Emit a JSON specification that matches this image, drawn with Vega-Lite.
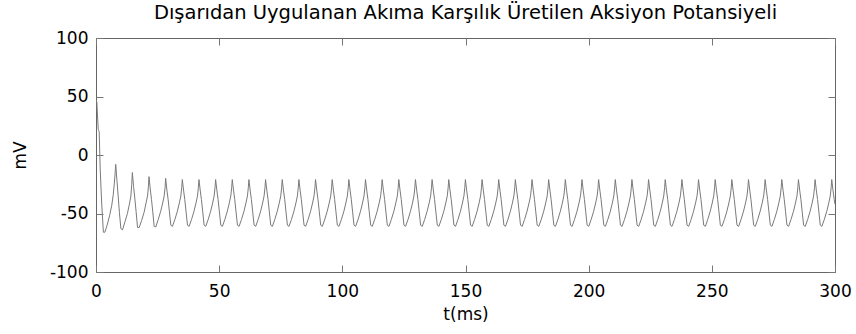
{
  "$schema": "https://vega.github.io/schema/vega-lite/v6.json",
  "width": 739,
  "height": 234,
  "autosize": "none",
  "padding": {"left": 96, "top": 38, "right": 21, "bottom": 62},
  "background": "white",
  "title": {"text": "Dışarıdan Uygulanan Akıma Karşılık Üretilen Aksiyon Potansiyeli", "font": "DejaVu Sans", "fontSize": 19.5, "fontWeight": "normal", "color": "black", "offset": 6, "anchor": "middle"},
  "config": {"view": {"stroke": "#666666", "strokeWidth": 1}},
  "data": {"values": [
    {"t":0,"v":47},{"t":0.35,"v":45},{"t":0.9,"v":22},{"t":1.3,"v":20},{"t":1.7,"v":-12},{"t":2.3,"v":-41},{"t":3.0,"v":-66},{"t":3.6,"v":-66},
    {"t":4.5,"v":-60},{"t":5.5,"v":-52},{"t":6.4,"v":-43},{"t":7.0,"v":-34},{"t":7.45,"v":-24},{"t":7.75,"v":-16},{"t":8.0,"v":-8},{"t":8.5,"v":-22},{"t":9.0,"v":-35},{"t":9.5,"v":-49},{"t":10.1,"v":-63},
    {"t":10.76,"v":-64},{"t":11.76,"v":-57},{"t":12.76,"v":-50},{"t":13.56,"v":-42},{"t":14.16,"v":-35},{"t":14.51,"v":-25},{"t":14.76,"v":-15},{"t":15.26,"v":-27},{"t":15.76,"v":-37},{"t":16.26,"v":-48},{"t":16.86,"v":-62},
    {"t":17.52,"v":-62},{"t":18.52,"v":-56},{"t":19.52,"v":-49},{"t":20.32,"v":-41},{"t":20.92,"v":-35},{"t":21.27,"v":-27},{"t":21.52,"v":-18.5},{"t":22.02,"v":-29},{"t":22.52,"v":-38},{"t":23.02,"v":-48},{"t":23.62,"v":-61},
    {"t":24.28,"v":-61.5},{"t":25.28,"v":-55},{"t":26.28,"v":-48},{"t":27.08,"v":-41},{"t":27.68,"v":-35},{"t":28.03,"v":-28},{"t":28.28,"v":-20},{"t":28.78,"v":-30},{"t":29.28,"v":-38},{"t":29.78,"v":-48},{"t":30.38,"v":-60},
    {"t":31.04,"v":-61},{"t":32.04,"v":-55},{"t":33.04,"v":-48},{"t":33.84,"v":-41},{"t":34.44,"v":-35},{"t":34.79,"v":-28},{"t":35.04,"v":-21},{"t":35.54,"v":-30},{"t":36.04,"v":-38},{"t":36.54,"v":-48},{"t":37.14,"v":-60},
    {"t":37.80,"v":-61},{"t":38.80,"v":-55},{"t":39.80,"v":-48},{"t":40.60,"v":-41},{"t":41.20,"v":-35},{"t":41.55,"v":-28},{"t":41.80,"v":-21},{"t":42.30,"v":-30},{"t":42.80,"v":-38},{"t":43.30,"v":-48},{"t":43.90,"v":-60},
    {"t":44.56,"v":-61},{"t":45.56,"v":-55},{"t":46.56,"v":-48},{"t":47.36,"v":-41},{"t":47.96,"v":-35},{"t":48.31,"v":-28},{"t":48.56,"v":-21},{"t":49.06,"v":-30},{"t":49.56,"v":-38},{"t":50.06,"v":-48},{"t":50.66,"v":-60},
    {"t":51.32,"v":-61},{"t":52.32,"v":-55},{"t":53.32,"v":-48},{"t":54.12,"v":-41},{"t":54.72,"v":-35},{"t":55.07,"v":-28},{"t":55.32,"v":-21},{"t":55.82,"v":-30},{"t":56.32,"v":-38},{"t":56.82,"v":-48},{"t":57.42,"v":-60},
    {"t":58.08,"v":-61},{"t":59.08,"v":-55},{"t":60.08,"v":-48},{"t":60.88,"v":-41},{"t":61.48,"v":-35},{"t":61.83,"v":-28},{"t":62.08,"v":-21},{"t":62.58,"v":-30},{"t":63.08,"v":-38},{"t":63.58,"v":-48},{"t":64.18,"v":-60},
    {"t":64.84,"v":-61},{"t":65.84,"v":-55},{"t":66.84,"v":-48},{"t":67.64,"v":-41},{"t":68.24,"v":-35},{"t":68.59,"v":-28},{"t":68.84,"v":-21},{"t":69.34,"v":-30},{"t":69.84,"v":-38},{"t":70.34,"v":-48},{"t":70.94,"v":-60},
    {"t":71.60,"v":-61},{"t":72.60,"v":-55},{"t":73.60,"v":-48},{"t":74.40,"v":-41},{"t":75.00,"v":-35},{"t":75.35,"v":-28},{"t":75.60,"v":-21},{"t":76.10,"v":-30},{"t":76.60,"v":-38},{"t":77.10,"v":-48},{"t":77.70,"v":-60},
    {"t":78.36,"v":-61},{"t":79.36,"v":-55},{"t":80.36,"v":-48},{"t":81.16,"v":-41},{"t":81.76,"v":-35},{"t":82.11,"v":-28},{"t":82.36,"v":-21},{"t":82.86,"v":-30},{"t":83.36,"v":-38},{"t":83.86,"v":-48},{"t":84.46,"v":-60},
    {"t":85.12,"v":-61},{"t":86.12,"v":-55},{"t":87.12,"v":-48},{"t":87.92,"v":-41},{"t":88.52,"v":-35},{"t":88.87,"v":-28},{"t":89.12,"v":-21},{"t":89.62,"v":-30},{"t":90.12,"v":-38},{"t":90.62,"v":-48},{"t":91.22,"v":-60},
    {"t":91.88,"v":-61},{"t":92.88,"v":-55},{"t":93.88,"v":-48},{"t":94.68,"v":-41},{"t":95.28,"v":-35},{"t":95.63,"v":-28},{"t":95.88,"v":-21},{"t":96.38,"v":-30},{"t":96.88,"v":-38},{"t":97.38,"v":-48},{"t":97.98,"v":-60},
    {"t":98.64,"v":-61},{"t":99.64,"v":-55},{"t":100.64,"v":-48},{"t":101.44,"v":-41},{"t":102.04,"v":-35},{"t":102.39,"v":-28},{"t":102.64,"v":-21},{"t":103.14,"v":-30},{"t":103.64,"v":-38},{"t":104.14,"v":-48},{"t":104.74,"v":-60},
    {"t":105.40,"v":-61},{"t":106.40,"v":-55},{"t":107.40,"v":-48},{"t":108.20,"v":-41},{"t":108.80,"v":-35},{"t":109.15,"v":-28},{"t":109.40,"v":-21},{"t":109.90,"v":-30},{"t":110.40,"v":-38},{"t":110.90,"v":-48},{"t":111.50,"v":-60},
    {"t":112.16,"v":-61},{"t":113.16,"v":-55},{"t":114.16,"v":-48},{"t":114.96,"v":-41},{"t":115.56,"v":-35},{"t":115.91,"v":-28},{"t":116.16,"v":-21},{"t":116.66,"v":-30},{"t":117.16,"v":-38},{"t":117.66,"v":-48},{"t":118.26,"v":-60},
    {"t":118.92,"v":-61},{"t":119.92,"v":-55},{"t":120.92,"v":-48},{"t":121.72,"v":-41},{"t":122.32,"v":-35},{"t":122.67,"v":-28},{"t":122.92,"v":-21},{"t":123.42,"v":-30},{"t":123.92,"v":-38},{"t":124.42,"v":-48},{"t":125.02,"v":-60},
    {"t":125.68,"v":-61},{"t":126.68,"v":-55},{"t":127.68,"v":-48},{"t":128.48,"v":-41},{"t":129.08,"v":-35},{"t":129.43,"v":-28},{"t":129.68,"v":-21},{"t":130.18,"v":-30},{"t":130.68,"v":-38},{"t":131.18,"v":-48},{"t":131.78,"v":-60},
    {"t":132.44,"v":-61},{"t":133.44,"v":-55},{"t":134.44,"v":-48},{"t":135.24,"v":-41},{"t":135.84,"v":-35},{"t":136.19,"v":-28},{"t":136.44,"v":-21},{"t":136.94,"v":-30},{"t":137.44,"v":-38},{"t":137.94,"v":-48},{"t":138.54,"v":-60},
    {"t":139.20,"v":-61},{"t":140.20,"v":-55},{"t":141.20,"v":-48},{"t":142.00,"v":-41},{"t":142.60,"v":-35},{"t":142.95,"v":-28},{"t":143.20,"v":-21},{"t":143.70,"v":-30},{"t":144.20,"v":-38},{"t":144.70,"v":-48},{"t":145.30,"v":-60},
    {"t":145.96,"v":-61},{"t":146.96,"v":-55},{"t":147.96,"v":-48},{"t":148.76,"v":-41},{"t":149.36,"v":-35},{"t":149.71,"v":-28},{"t":149.96,"v":-21},{"t":150.46,"v":-30},{"t":150.96,"v":-38},{"t":151.46,"v":-48},{"t":152.06,"v":-60},
    {"t":152.72,"v":-61},{"t":153.72,"v":-55},{"t":154.72,"v":-48},{"t":155.52,"v":-41},{"t":156.12,"v":-35},{"t":156.47,"v":-28},{"t":156.72,"v":-21},{"t":157.22,"v":-30},{"t":157.72,"v":-38},{"t":158.22,"v":-48},{"t":158.82,"v":-60},
    {"t":159.48,"v":-61},{"t":160.48,"v":-55},{"t":161.48,"v":-48},{"t":162.28,"v":-41},{"t":162.88,"v":-35},{"t":163.23,"v":-28},{"t":163.48,"v":-21},{"t":163.98,"v":-30},{"t":164.48,"v":-38},{"t":164.98,"v":-48},{"t":165.58,"v":-60},
    {"t":166.24,"v":-61},{"t":167.24,"v":-55},{"t":168.24,"v":-48},{"t":169.04,"v":-41},{"t":169.64,"v":-35},{"t":169.99,"v":-28},{"t":170.24,"v":-21},{"t":170.74,"v":-30},{"t":171.24,"v":-38},{"t":171.74,"v":-48},{"t":172.34,"v":-60},
    {"t":173.00,"v":-61},{"t":174.00,"v":-55},{"t":175.00,"v":-48},{"t":175.80,"v":-41},{"t":176.40,"v":-35},{"t":176.75,"v":-28},{"t":177.00,"v":-21},{"t":177.50,"v":-30},{"t":178.00,"v":-38},{"t":178.50,"v":-48},{"t":179.10,"v":-60},
    {"t":179.76,"v":-61},{"t":180.76,"v":-55},{"t":181.76,"v":-48},{"t":182.56,"v":-41},{"t":183.16,"v":-35},{"t":183.51,"v":-28},{"t":183.76,"v":-21},{"t":184.26,"v":-30},{"t":184.76,"v":-38},{"t":185.26,"v":-48},{"t":185.86,"v":-60},
    {"t":186.52,"v":-61},{"t":187.52,"v":-55},{"t":188.52,"v":-48},{"t":189.32,"v":-41},{"t":189.92,"v":-35},{"t":190.27,"v":-28},{"t":190.52,"v":-21},{"t":191.02,"v":-30},{"t":191.52,"v":-38},{"t":192.02,"v":-48},{"t":192.62,"v":-60},
    {"t":193.28,"v":-61},{"t":194.28,"v":-55},{"t":195.28,"v":-48},{"t":196.08,"v":-41},{"t":196.68,"v":-35},{"t":197.03,"v":-28},{"t":197.28,"v":-21},{"t":197.78,"v":-30},{"t":198.28,"v":-38},{"t":198.78,"v":-48},{"t":199.38,"v":-60},
    {"t":200.04,"v":-61},{"t":201.04,"v":-55},{"t":202.04,"v":-48},{"t":202.84,"v":-41},{"t":203.44,"v":-35},{"t":203.79,"v":-28},{"t":204.04,"v":-21},{"t":204.54,"v":-30},{"t":205.04,"v":-38},{"t":205.54,"v":-48},{"t":206.14,"v":-60},
    {"t":206.80,"v":-61},{"t":207.80,"v":-55},{"t":208.80,"v":-48},{"t":209.60,"v":-41},{"t":210.20,"v":-35},{"t":210.55,"v":-28},{"t":210.80,"v":-21},{"t":211.30,"v":-30},{"t":211.80,"v":-38},{"t":212.30,"v":-48},{"t":212.90,"v":-60},
    {"t":213.56,"v":-61},{"t":214.56,"v":-55},{"t":215.56,"v":-48},{"t":216.36,"v":-41},{"t":216.96,"v":-35},{"t":217.31,"v":-28},{"t":217.56,"v":-21},{"t":218.06,"v":-30},{"t":218.56,"v":-38},{"t":219.06,"v":-48},{"t":219.66,"v":-60},
    {"t":220.32,"v":-61},{"t":221.32,"v":-55},{"t":222.32,"v":-48},{"t":223.12,"v":-41},{"t":223.72,"v":-35},{"t":224.07,"v":-28},{"t":224.32,"v":-21},{"t":224.82,"v":-30},{"t":225.32,"v":-38},{"t":225.82,"v":-48},{"t":226.42,"v":-60},
    {"t":227.08,"v":-61},{"t":228.08,"v":-55},{"t":229.08,"v":-48},{"t":229.88,"v":-41},{"t":230.48,"v":-35},{"t":230.83,"v":-28},{"t":231.08,"v":-21},{"t":231.58,"v":-30},{"t":232.08,"v":-38},{"t":232.58,"v":-48},{"t":233.18,"v":-60},
    {"t":233.84,"v":-61},{"t":234.84,"v":-55},{"t":235.84,"v":-48},{"t":236.64,"v":-41},{"t":237.24,"v":-35},{"t":237.59,"v":-28},{"t":237.84,"v":-21},{"t":238.34,"v":-30},{"t":238.84,"v":-38},{"t":239.34,"v":-48},{"t":239.94,"v":-60},
    {"t":240.60,"v":-61},{"t":241.60,"v":-55},{"t":242.60,"v":-48},{"t":243.40,"v":-41},{"t":244.00,"v":-35},{"t":244.35,"v":-28},{"t":244.60,"v":-21},{"t":245.10,"v":-30},{"t":245.60,"v":-38},{"t":246.10,"v":-48},{"t":246.70,"v":-60},
    {"t":247.36,"v":-61},{"t":248.36,"v":-55},{"t":249.36,"v":-48},{"t":250.16,"v":-41},{"t":250.76,"v":-35},{"t":251.11,"v":-28},{"t":251.36,"v":-21},{"t":251.86,"v":-30},{"t":252.36,"v":-38},{"t":252.86,"v":-48},{"t":253.46,"v":-60},
    {"t":254.12,"v":-61},{"t":255.12,"v":-55},{"t":256.12,"v":-48},{"t":256.92,"v":-41},{"t":257.52,"v":-35},{"t":257.87,"v":-28},{"t":258.12,"v":-21},{"t":258.62,"v":-30},{"t":259.12,"v":-38},{"t":259.62,"v":-48},{"t":260.22,"v":-60},
    {"t":260.88,"v":-61},{"t":261.88,"v":-55},{"t":262.88,"v":-48},{"t":263.68,"v":-41},{"t":264.28,"v":-35},{"t":264.63,"v":-28},{"t":264.88,"v":-21},{"t":265.38,"v":-30},{"t":265.88,"v":-38},{"t":266.38,"v":-48},{"t":266.98,"v":-60},
    {"t":267.64,"v":-61},{"t":268.64,"v":-55},{"t":269.64,"v":-48},{"t":270.44,"v":-41},{"t":271.04,"v":-35},{"t":271.39,"v":-28},{"t":271.64,"v":-21},{"t":272.14,"v":-30},{"t":272.64,"v":-38},{"t":273.14,"v":-48},{"t":273.74,"v":-60},
    {"t":274.40,"v":-61},{"t":275.40,"v":-55},{"t":276.40,"v":-48},{"t":277.20,"v":-41},{"t":277.80,"v":-35},{"t":278.15,"v":-28},{"t":278.40,"v":-21},{"t":278.90,"v":-30},{"t":279.40,"v":-38},{"t":279.90,"v":-48},{"t":280.50,"v":-60},
    {"t":281.16,"v":-61},{"t":282.16,"v":-55},{"t":283.16,"v":-48},{"t":283.96,"v":-41},{"t":284.56,"v":-35},{"t":284.91,"v":-28},{"t":285.16,"v":-21},{"t":285.66,"v":-30},{"t":286.16,"v":-38},{"t":286.66,"v":-48},{"t":287.26,"v":-60},
    {"t":287.92,"v":-61},{"t":288.92,"v":-55},{"t":289.92,"v":-48},{"t":290.72,"v":-41},{"t":291.32,"v":-35},{"t":291.67,"v":-28},{"t":291.92,"v":-21},{"t":292.42,"v":-30},{"t":292.92,"v":-38},{"t":293.42,"v":-48},{"t":294.02,"v":-60},
    {"t":294.68,"v":-61},{"t":295.68,"v":-55},{"t":296.68,"v":-48},{"t":297.48,"v":-41},{"t":298.08,"v":-35},{"t":298.43,"v":-28},{"t":298.68,"v":-21},{"t":299.18,"v":-30},{"t":299.68,"v":-38},{"t":300,"v":-42}
  ]},
  "layer": [
    {
      "mark": {"type": "line", "color": "#7a7a7a", "strokeWidth": 1, "clip": true},
      "encoding": {
        "x": {"field": "t", "type": "quantitative", "scale": {"domain": [0, 300], "nice": false, "zero": false},
          "axis": {"orient": "bottom", "values": [0, 50, 100, 150, 200, 250, 300], "grid": false, "domain": false, "offset": -7, "tickSize": 7, "labelPadding": 11, "labelExpr": "toString(datum.value)", "labelFont": "DejaVu Sans", "labelFontSize": 17, "labelColor": "black", "tickColor": "#777777", "title": "t(ms)", "titleFont": "DejaVu Sans", "titleFontSize": 17, "titleFontWeight": "normal", "titleColor": "black", "titlePadding": 7, "labelFlush": false}},
        "y": {"field": "v", "type": "quantitative", "scale": {"domain": [-100, 100], "nice": false, "zero": false},
          "axis": {"orient": "left", "values": [-100, -50, 0, 50, 100], "grid": false, "domain": false, "offset": -7, "tickSize": 7, "labelPadding": 8, "labelExpr": "toString(datum.value)", "labelFont": "DejaVu Sans", "labelFontSize": 17, "labelColor": "black", "tickColor": "#777777", "title": "mV", "titleFont": "DejaVu Sans", "titleFontSize": 17, "titleFontWeight": "normal", "titleColor": "black", "titlePadding": 20, "labelFlush": false}}
      }
    },
    {
      "mark": {"type": "line", "opacity": 0},
      "encoding": {
        "x": {"field": "t", "type": "quantitative", "axis": {"orient": "top", "values": [0, 50, 100, 150, 200, 250, 300], "grid": false, "labels": false, "title": null, "domain": false, "offset": -7, "tickSize": 7, "tickColor": "#777777"}},
        "y": {"field": "v", "type": "quantitative", "axis": {"orient": "right", "values": [-100, -50, 0, 50, 100], "grid": false, "labels": false, "title": null, "domain": false, "offset": -7, "tickSize": 7, "tickColor": "#777777"}}
      }
    }
  ],
  "resolve": {"axis": {"x": "independent", "y": "independent"}}
}
